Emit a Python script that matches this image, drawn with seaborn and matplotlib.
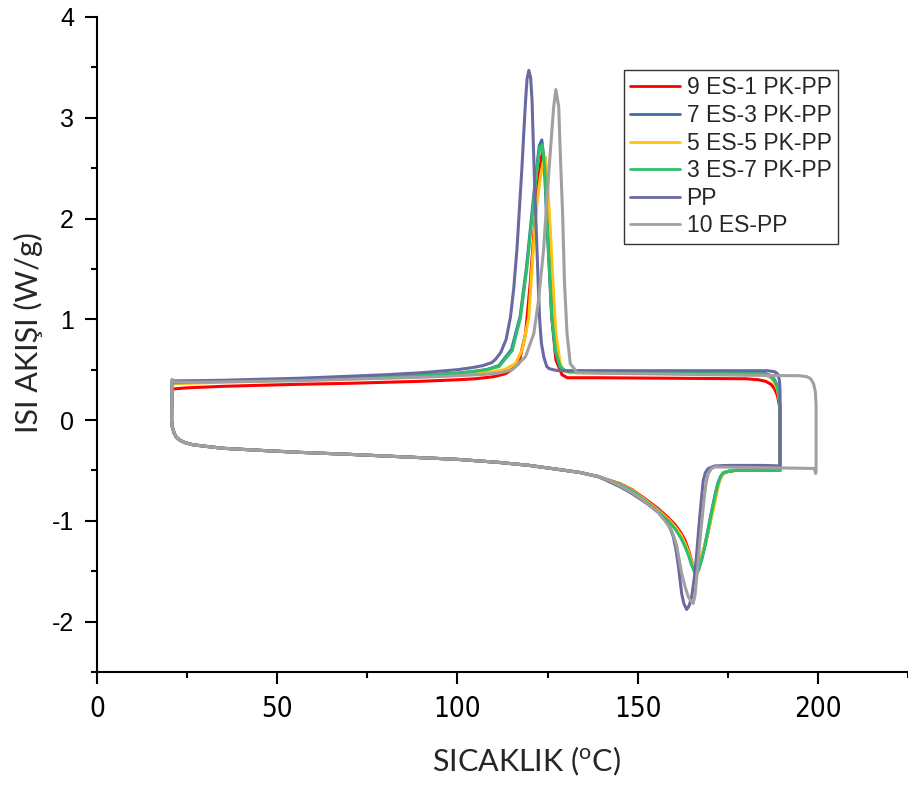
import numpy as np
import pandas as pd
import matplotlib
matplotlib.use("Agg")
import matplotlib.pyplot as plt
from matplotlib import font_manager
from matplotlib.lines import Line2D
import seaborn as sns

# ---------------- data ----------------
names = ["9 ES-1 PK-PP", "7 ES-3 PK-PP", "5 ES-5 PK-PP", "3 ES-7 PK-PP", "PP", "10 ES-PP"]
colors = ["#FF0000", "#3E6EA6", "#FFC20E", "#2FBF6A", "#6A6AA2", "#A0A0A0"]

# shared start of the heating run (all samples overlap here)
heat_T_common = [20.7, 20.9, 21.4, 22.0, 23.0, 24.5, 26.6, 30, 35, 45, 56, 70, 85, 100, 111.5, 120, 128, 134, 139]
heat_Q_common = [0.0, -0.07, -0.13, -0.17, -0.20, -0.225, -0.245, -0.26, -0.28, -0.30, -0.32, -0.34, -0.365, -0.39, -0.42, -0.45, -0.49, -0.52, -0.56]

# 9 ES-1 PK-PP
red_melt_T = [145, 148.4, 152, 155.7, 158.5, 160.4, 162, 163.1, 164.2, 165.0, 165.6, 166.0, 166.6, 167.7, 168.7, 169.6, 170.4, 171.0, 171.7, 172.3, 173.0, 173.7, 175, 177, 185, 189.5]
red_melt_Q = [-0.63, -0.69, -0.78, -0.88, -0.97, -1.04, -1.12, -1.19, -1.30, -1.40, -1.47, -1.50, -1.48, -1.38, -1.24, -1.10, -0.96, -0.86, -0.74, -0.64, -0.57, -0.53, -0.51, -0.50, -0.50, -0.50]
red_cool_T = [189.5, 189.5, 189.3, 188.8, 188, 187, 185.5, 183.5, 180, 160, 140, 131, 130.5, 129, 127.3, 126.2, 125.6, 125.0, 124.4, 123.7, 123.3, 122.4, 121.2, 120.2, 118.9, 117, 115, 113.3, 110, 105, 100, 90, 80, 70, 56, 45, 35, 25, 21.5, 20.8, 20.7]
red_cool_Q = [-0.50, 0.05, 0.15, 0.24, 0.31, 0.355, 0.385, 0.40, 0.41, 0.415, 0.42, 0.42, 0.42, 0.45, 0.60, 1.02, 1.52, 2.02, 2.41, 2.66, 2.61, 2.35, 1.85, 1.36, 0.86, 0.56, 0.50, 0.46, 0.43, 0.41, 0.40, 0.385, 0.375, 0.365, 0.355, 0.345, 0.335, 0.32, 0.31, 0.30, 0.0]

# 7 ES-3 PK-PP
blue_melt_T = [145, 148.4, 152, 155.7, 158.5, 160.4, 162, 163.1, 164.2, 165.0, 165.8, 166.3, 166.9, 167.8, 168.7, 169.5, 170.2, 170.9, 171.6, 172.3, 173.0, 173.8, 175, 177, 185, 189.5]
blue_melt_Q = [-0.64, -0.70, -0.79, -0.90, -0.99, -1.07, -1.16, -1.24, -1.34, -1.43, -1.50, -1.52, -1.48, -1.37, -1.23, -1.09, -0.96, -0.84, -0.72, -0.62, -0.56, -0.52, -0.51, -0.50, -0.50, -0.50]
blue_cool_T = [189.5, 189.5, 189.3, 188.8, 188, 187, 185.5, 183, 170, 150, 131, 129.7, 128.4, 127.1, 126.1, 125.4, 124.7, 124.1, 123.4, 122.7, 121.7, 120.6, 119.2, 117.4, 115.0, 111.5, 108, 104, 100, 90, 80, 70, 56, 45, 35, 25, 21.5, 20.8, 20.7]
blue_cool_Q = [-0.50, 0.13, 0.23, 0.33, 0.40, 0.44, 0.46, 0.475, 0.48, 0.48, 0.485, 0.49, 0.53, 0.70, 1.05, 1.55, 2.05, 2.55, 2.78, 2.72, 2.42, 2.03, 1.53, 1.03, 0.70, 0.54, 0.50, 0.48, 0.465, 0.445, 0.43, 0.42, 0.405, 0.395, 0.385, 0.375, 0.37, 0.37, 0.0]

# 5 ES-5 PK-PP
yel_melt_T = [145, 148.4, 152, 155.7, 158.5, 160.4, 162, 163.1, 164.2, 165.0, 165.6, 166.1, 166.7, 167.8, 168.8, 169.7, 170.5, 171.2, 171.9, 172.5, 173.2, 174.0, 175.5, 177, 185, 189.5]
yel_melt_Q = [-0.635, -0.695, -0.79, -0.895, -0.985, -1.06, -1.14, -1.22, -1.32, -1.41, -1.45, -1.46, -1.43, -1.34, -1.22, -1.09, -0.96, -0.85, -0.73, -0.63, -0.56, -0.52, -0.505, -0.50, -0.50, -0.50]
yel_cool_T = [189.5, 189.5, 189.3, 188.8, 188, 187, 185.5, 183, 170, 150, 131, 129.5, 128.5, 127.3, 126.5, 125.8, 125.0, 124.4, 123.9, 123.0, 121.8, 120.7, 119.8, 118, 116.1, 113, 110, 105, 100, 90, 80, 70, 56, 45, 35, 25, 21.5, 20.8, 20.7]
yel_cool_Q = [-0.50, 0.10, 0.20, 0.30, 0.37, 0.42, 0.445, 0.46, 0.465, 0.465, 0.47, 0.49, 0.56, 0.86, 1.36, 1.85, 2.35, 2.61, 2.58, 2.41, 2.08, 1.52, 1.02, 0.70, 0.56, 0.50, 0.48, 0.465, 0.455, 0.435, 0.42, 0.41, 0.395, 0.385, 0.375, 0.365, 0.36, 0.36, 0.0]

# 3 ES-7 PK-PP
grn_melt_T = [145, 148.4, 152, 155.7, 158.5, 160.4, 162, 163.1, 164.2, 165.0, 165.8, 166.3, 166.9, 167.8, 168.7, 169.5, 170.2, 170.9, 171.6, 172.3, 173.0, 173.8, 175, 177, 185, 189.5]
grn_melt_Q = [-0.64, -0.70, -0.80, -0.91, -1.00, -1.08, -1.17, -1.25, -1.35, -1.44, -1.51, -1.53, -1.49, -1.38, -1.24, -1.10, -0.97, -0.85, -0.73, -0.63, -0.56, -0.525, -0.51, -0.50, -0.50, -0.50]
grn_cool_T = [189.5, 189.5, 189.3, 188.8, 188, 187, 185.5, 183, 170, 150, 131, 129.9, 128.5, 127.2, 126.2, 125.5, 124.8, 124.2, 123.5, 122.8, 121.8, 120.7, 119.3, 117.5, 115.2, 111.5, 108, 104, 100, 90, 80, 70, 56, 45, 35, 25, 21.5, 20.8, 20.7]
grn_cool_Q = [-0.50, 0.12, 0.22, 0.32, 0.39, 0.43, 0.455, 0.47, 0.475, 0.475, 0.48, 0.49, 0.53, 0.69, 1.02, 1.52, 2.02, 2.51, 2.73, 2.70, 2.41, 2.02, 1.52, 1.02, 0.69, 0.53, 0.50, 0.48, 0.465, 0.445, 0.43, 0.42, 0.405, 0.395, 0.385, 0.375, 0.37, 0.37, 0.0]

# PP
pp_melt_T = [142, 145, 148, 151, 153, 155.5, 157.6, 159, 159.9, 160.6, 161.3, 161.8, 162.2, 162.8, 163.6, 164.3, 165.0, 165.7, 166.3, 166.8, 167.3, 167.8, 168.2, 168.8, 169.6, 171.4, 175, 185, 189.5]
pp_melt_Q = [-0.61, -0.66, -0.72, -0.79, -0.84, -0.91, -0.99, -1.07, -1.16, -1.28, -1.45, -1.60, -1.72, -1.82, -1.88, -1.84, -1.75, -1.57, -1.36, -1.14, -0.93, -0.74, -0.60, -0.52, -0.48, -0.455, -0.45, -0.45, -0.455]
pp_cool_T = [189.5, 189.5, 189.3, 188.8, 188, 186, 175, 160, 145, 128, 126.5, 125.5, 124.8, 124.0, 123.3, 122.8, 122.4, 121.9, 121.4, 121.0, 120.7, 120.3, 119.8, 119.3, 118.9, 118.4, 117.9, 117.2, 116.5, 115.6, 114.7, 113.5, 112, 110.5, 109.5, 107, 104, 100, 90, 80, 70, 56, 45, 35, 25, 21.5, 20.8, 20.7]
pp_cool_Q = [-0.455, 0.30, 0.40, 0.46, 0.48, 0.49, 0.49, 0.49, 0.49, 0.49, 0.50, 0.51, 0.53, 0.62, 0.76, 1.0, 1.36, 1.85, 2.35, 2.8, 3.17, 3.40, 3.47, 3.38, 3.17, 2.85, 2.51, 2.1, 1.69, 1.30, 1.02, 0.80, 0.67, 0.60, 0.57, 0.54, 0.52, 0.50, 0.47, 0.45, 0.435, 0.415, 0.405, 0.395, 0.39, 0.39, 0.40, 0.0]

# 10 ES-PP
gry_melt_T = [142, 145, 148, 151, 153, 155.5, 157.6, 159.5, 160.8, 161.6, 162.2, 163.2, 164.0, 164.8, 165.4, 165.9, 166.3, 166.8, 167.3, 167.9, 168.5, 169.0, 169.6, 170.5, 171.4, 180, 190, 198.8, 199.2, 199.4]
gry_melt_Q = [-0.60, -0.65, -0.71, -0.78, -0.84, -0.91, -1.00, -1.10, -1.24, -1.40, -1.52, -1.66, -1.75, -1.80, -1.82, -1.74, -1.59, -1.40, -1.19, -0.97, -0.76, -0.62, -0.53, -0.48, -0.465, -0.47, -0.475, -0.48, -0.50, -0.53]
gry_cool_T = [199.5, 199.5, 199.3, 198.8, 198, 197, 195, 180, 160, 140, 133, 132.6, 131.3, 130.4, 129.7, 129.2, 128.5, 128.1, 127.3, 126.7, 125.8, 124.8, 123.9, 122.5, 121.2, 118.9, 115.2, 112, 108, 100, 90, 80, 70, 56, 45, 35, 25, 21.5, 20.8, 20.7]
gry_cool_Q = [-0.50, 0.15, 0.28, 0.36, 0.41, 0.43, 0.44, 0.445, 0.455, 0.465, 0.47, 0.50, 0.56, 0.86, 1.36, 2.02, 2.68, 3.11, 3.28, 3.11, 2.68, 2.18, 1.69, 1.19, 0.86, 0.63, 0.50, 0.47, 0.455, 0.44, 0.425, 0.415, 0.405, 0.39, 0.385, 0.38, 0.375, 0.38, 0.40, 0.0]

x_ticks = [0, 50, 100, 150, 200]
y_ticks = [-2, -1, 0, 1, 2, 3, 4]

# ---------------- build the table ----------------
series_parts = {
    names[0]: (red_melt_T, red_melt_Q, red_cool_T, red_cool_Q),
    names[1]: (blue_melt_T, blue_melt_Q, blue_cool_T, blue_cool_Q),
    names[2]: (yel_melt_T, yel_melt_Q, yel_cool_T, yel_cool_Q),
    names[3]: (grn_melt_T, grn_melt_Q, grn_cool_T, grn_cool_Q),
    names[4]: (pp_melt_T, pp_melt_Q, pp_cool_T, pp_cool_Q),
    names[5]: (gry_melt_T, gry_melt_Q, gry_cool_T, gry_cool_Q),
}
frames = []
for nm, (mT, mQ, cT, cQ) in series_parts.items():
    T = heat_T_common + mT + cT
    Q = heat_Q_common + mQ + cQ
    frames.append(pd.DataFrame({"series": nm, "T": T, "Q": Q, "order": np.arange(len(T))}))
df = pd.concat(frames, ignore_index=True)


def pick(*fams):
    for f in fams:
        try:
            font_manager.findfont(font_manager.FontProperties(family=f), fallback_to_default=False)
            return f
        except Exception:
            continue
    return "DejaVu Sans"


sns.set_style("ticks")
arial = pick("Liberation Sans", "Arial", "DejaVu Sans")
label_font = pick("Lato", "Open Sans", "DejaVu Sans")
plt.rcParams["font.family"] = [arial, "DejaVu Sans"]
plt.rcParams["mathtext.fontset"] = "custom"

# narrow face for the x tick labels, if one exists
xtick_props = None
for fam, stretch in [("Liberation Sans Narrow", "normal"), ("Arial Narrow", "normal"), ("DejaVu Sans", "condensed")]:
    try:
        fp = font_manager.FontProperties(family=fam, stretch=stretch, size=20)
        path = font_manager.findfont(fp, fallback_to_default=False)
        if "Narrow" in path or "Condensed" in path:
            xtick_props = fp
            break
    except Exception:
        pass
if xtick_props is None:
    xtick_props = font_manager.FontProperties(family=arial, size=18)

fig = plt.figure(figsize=(9.08, 7.86), dpi=100)
ax = fig.add_axes([97 / 908, 114 / 786, 811 / 908, 655 / 786])

palette = dict(zip(names, colors))
sns.lineplot(data=df, x="T", y="Q", hue="series", hue_order=names, palette=palette,
             sort=False, estimator=None, linewidth=2.2, legend=False, ax=ax)

ax.set_xlim(0, 224.3)
ax.set_ylim(-2.5, 4)
ax.set_xticks(x_ticks)
ax.set_yticks(y_ticks)
ax.set_xticks([25, 75, 125, 175, 225], minor=True)
ax.set_yticks([-2.5, -1.5, -0.5, 0.5, 1.5, 2.5, 3.5], minor=True)
ax.set_xticklabels([str(v) for v in x_ticks], fontproperties=xtick_props)
ax.set_yticklabels([str(v) for v in y_ticks], fontfamily=arial, fontsize=18)

for s in ["top", "right"]:
    ax.spines[s].set_visible(False)
for s in ["left", "bottom"]:
    ax.spines[s].set_linewidth(1.5)
    ax.spines[s].set_color("black")
ax.tick_params(which="major", direction="out", length=8.6, width=1.5, color="black", pad=8, labelcolor="black")
ax.tick_params(which="minor", direction="out", length=4.5, width=1.5, color="black")

ax.set_xlabel(r"SICAKLIK ($\mathregular{^{o}}$C)", fontfamily=label_font, fontsize=22)
ax.set_ylabel("ISI AKIŞI (W/g)", fontfamily=label_font, fontsize=22)
ax.xaxis.set_label_coords((526 - 97) / 811, (672 - 745) / 655)
ax.yaxis.set_label_coords((43 - 97) / 811, (672 - 333) / 655)

handles = [Line2D([0], [0], color=c, lw=2.0) for c in colors]
leg = ax.legend(handles, names, loc="upper right", bbox_to_anchor=((838 - 97) / 811, (672 - 70) / 655),
                borderaxespad=0, frameon=True, fancybox=False, framealpha=1, edgecolor="#333333",
                prop={"family": arial, "size": 16.5}, handlelength=2.15, handletextpad=0.3,
                labelspacing=0.2, borderpad=0.28)
leg.get_frame().set_linewidth(1.0)

ax.grid(False)
fig.savefig("out.png", dpi=100)
